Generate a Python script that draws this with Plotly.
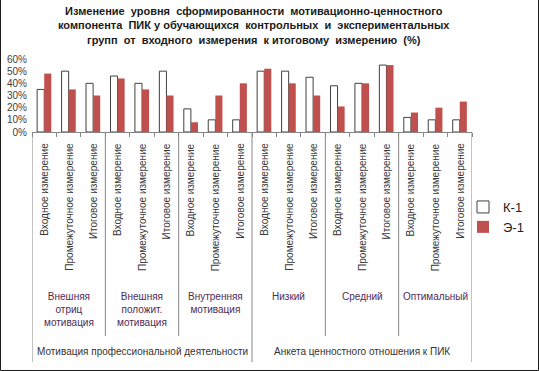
import plotly.graph_objects as go

measures = ["Входное измерение", "Промежуточное измерение", "Итоговое измерение"]
groups = ["Внешняя<br>отриц<br>мотивация", "Внешняя<br>положит.<br>мотивация", "Внутренняя<br>мотивация",
          "Низкий", "Средний", "Оптимальный"]
supergroups = ["Мотивация профессиональной деятельности", "Анкета ценностного отношения к ПИК"]
k1 = [35, 50, 40, 46, 40, 50, 19, 10, 10, 50, 50, 45, 38, 40, 55, 12, 10, 10]
e1 = [48, 35, 30, 44, 35, 30, 8, 30, 40, 52, 40, 30, 21, 40, 55, 16, 20, 25]

W, H = 539, 371
L, R, T, B = 32, 472, 59, 132
ph = B - T

def py(p):
    return (B - p) / ph

def px(p):
    return (p - L) / (R - L)

n = len(k1)
xs = list(range(n))
FONT = "Liberation Sans, Arial, sans-serif"

fig = go.Figure()
fig.add_trace(go.Bar(x=xs, y=[v / 100 for v in k1], name="К-1",
                     marker=dict(color="white", line=dict(color="#404040", width=1))))
fig.add_trace(go.Bar(x=xs, y=[v / 100 for v in e1], name="Э-1",
                     marker=dict(color="#C0504D", line=dict(color="#C0504D", width=0))))

ann = [dict(x=px(254), y=py(3), xref="paper", yref="paper",
            text="Изменение  уровня  сформированности  мотивационно-ценностного<br>"
                 "компонента  ПИК у обучающихся  контрольных  и  экспериментальных<br>"
                 "групп  от  входного  измерения  к итоговому  измерению  (%)",
            showarrow=False, xanchor="center", yanchor="top", align="center",
            font=dict(family=FONT, size=11, color="#1a1a1a", weight="bold"))]
for i in range(n):
    ann.append(dict(x=i, y=py(141), xref="x", yref="paper", text=measures[i % 3],
                    textangle=-90, showarrow=False, xanchor="center", yanchor="top",
                    font=dict(family=FONT, size=10, color="#383838")))
for g in range(6):
    ann.append(dict(x=g * 3 + 1, y=py(289), xref="x", yref="paper", text=groups[g],
                    showarrow=False, xanchor="center", yanchor="top",
                    font=dict(family=FONT, size=10, color="#4f2b55")))
for s in range(2):
    ann.append(dict(x=s * 9 + 4, y=py(351), xref="x", yref="paper", text=supergroups[s],
                    showarrow=False, xanchor="center", yanchor="middle",
                    font=dict(family=FONT, size=10, color="#333333")))

shapes = []
for xb in [2.5, 5.5, 11.5, 14.5]:
    shapes.append(dict(type="line", xref="x", yref="paper", x0=xb, x1=xb, y0=0, y1=py(336),
                       line=dict(color="#868686", width=1)))
for xb in [-0.5, 8.5, 17.5]:
    shapes.append(dict(type="line", xref="x", yref="paper", x0=xb, x1=xb, y0=0, y1=py(362),
                       line=dict(color="#868686", width=1)))
# outer frame (left, right, bottom)
frame = dict(color="#1e1e1e", width=1)
shapes.append(dict(type="line", xref="paper", yref="paper", x0=px(0.5), x1=px(0.5),
                   y0=py(0), y1=py(370.5), line=frame))
shapes.append(dict(type="line", xref="paper", yref="paper", x0=px(538.5), x1=px(538.5),
                   y0=py(0), y1=py(370.5), line=frame))
shapes.append(dict(type="line", xref="paper", yref="paper", x0=px(0.5), x1=px(538.5),
                   y0=py(370.5), y1=py(370.5), line=frame))

fig.update_layout(
    width=W, height=H,
    margin=dict(l=L, r=W - R, t=T, b=H - B, pad=0, autoexpand=False),
    paper_bgcolor="white", plot_bgcolor="white",
    barmode="group", bargap=0.42, bargroupgap=0,
    xaxis=dict(range=[-0.5, n - 0.5], tickmode="array", tickvals=[i + 0.5 for i in range(-1, n)],
               showticklabels=False, ticks="outside", ticklen=4, tickcolor="#868686",
               showline=True, linecolor="#868686", linewidth=1, showgrid=False, zeroline=False,
               automargin=False),
    yaxis=dict(range=[0, 0.6], tickformat=".0%", dtick=0.1, showgrid=False, zeroline=False,
               showline=False, ticks="", automargin=False, ticklabelstandoff=4,
               tickfont=dict(family=FONT, size=10, color="#404040")),
    legend=dict(x=px(529), y=py(192), xanchor="right", yanchor="top",
                font=dict(family=FONT, size=13, color="#222222"), bgcolor="rgba(0,0,0,0)",
                itemwidth=30),
    annotations=ann, shapes=shapes, showlegend=True,
)

fig.write_html("out.html", config={"displayModeBar": False},
               post_script="document.body.style.margin='0';document.body.style.padding='0';")
